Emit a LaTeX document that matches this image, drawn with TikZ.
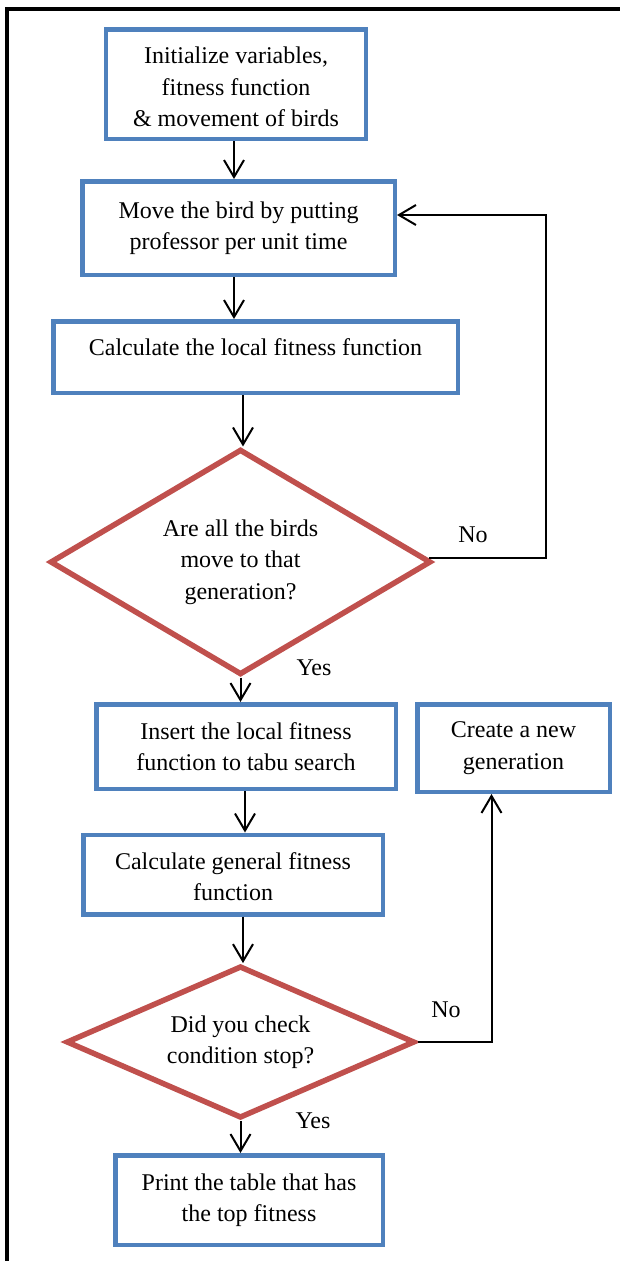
\documentclass[tikz,border=0pt]{standalone}
\usepackage{fontspec}
\setmainfont{Liberation Serif}
\usetikzlibrary{arrows.meta,shapes.geometric}
\definecolor{boxblue}{RGB}{79,129,189}
\definecolor{decred}{RGB}{192,80,77}
\tikzset{
  txt/.style={font=\fontsize{24}{31.5}\selectfont, align=center},
  procbox/.style={txt, draw=boxblue, line width=4.5pt, rectangle, inner sep=0pt},
  decbox/.style={txt, draw=decred, line width=5.5pt, diamond, inner sep=0pt},
  arr/.style={draw=black, line width=2pt, -{Straight Barb[length=17pt,width=20pt]}},
  lbl/.style={txt, inner sep=0pt}
}
\begin{document}
\begin{tikzpicture}[x=1pt,y=-1pt]
\useasboundingbox (0,0) rectangle (619,1261);
\fill[white] (0,0) rectangle (619,1261);
% frame
\draw[line width=4pt] (7,1270) -- (7,9) -- (625,9);

% process boxes
\node[procbox, minimum width=260pt, minimum height=109.5pt] (b1) at (236,84)
  {\rule{0pt}{22.5pt}Initialize variables,\\fitness function\\\& movement of birds};
\node[procbox, minimum width=312.5pt, minimum height=93.5pt] (b2) at (238.5,228)
  {Move the bird by putting\\professor per unit time};
\node[procbox, minimum width=404.5pt, minimum height=71.5pt, text depth=19pt] (b3) at (255.5,357)
  {Calculate the local fitness function};
\node[decbox, minimum width=381pt, minimum height=225.6pt, aspect=1.689] (d1) at (240.5,562)
  {Are all the birds\\move to that\\generation?};
\node[procbox, minimum width=299.5pt, minimum height=84.5pt] (b4) at (246,746.5)
  {Insert the local fitness\\function to tabu search};
\node[procbox, minimum width=192.5pt, minimum height=87.5pt] (b5) at (513.5,748)
  {Create a new\\generation};
\node[procbox, minimum width=299.5pt, minimum height=79.5pt] (b6) at (233,874.5)
  {\rule{0pt}{21.5pt}Calculate general fitness\\function};
\node[decbox, minimum width=348.6pt, minimum height=152.3pt, aspect=2.289] (d2) at (240.5,1042)
  {Did you check\\condition stop?};
\node[procbox, minimum width=267.5pt, minimum height=89.5pt] (b7) at (249,1200)
  {Print the table that has\\the top fitness};

% helper coordinates
\coordinate (xa) at (234,0);
\coordinate (xc) at (243,0);
\coordinate (xe) at (245,0);
\coordinate (xg) at (491.5,0);
\coordinate (lp) at (546,215);

% connectors
\draw[arr] (b1.south -| xa) -- (b2.north -| xa);
\draw[arr] (b2.south -| xa) -- (b3.north -| xa);
\draw[arr] (b3.south -| xc) -- (d1.north -| xc);
\draw[arr] (d1.south) -- (b4.north -| d1.south);
\draw[arr] (b4.south -| xe) -- (b6.north -| xe);
\draw[arr] (b6.south -| xc) -- (d2.north -| xc);
\draw[arr] (d2.south) -- (b7.north -| d2.south);
\draw[arr] ([shift={(-5,-4)}]d1.east) -| (lp) -- (b2.east |- lp);
\draw[arr] (d2.east) -| (b5.south -| xg);

% labels
\node[lbl] (no1) at (473,535) {No};
\node[lbl] (yes1) at (314,668) {Yes};
\node[lbl] (no2) at (446,1010) {No};
\node[lbl] (yes2) at (313,1121) {Yes};
\end{tikzpicture}
\end{document}
